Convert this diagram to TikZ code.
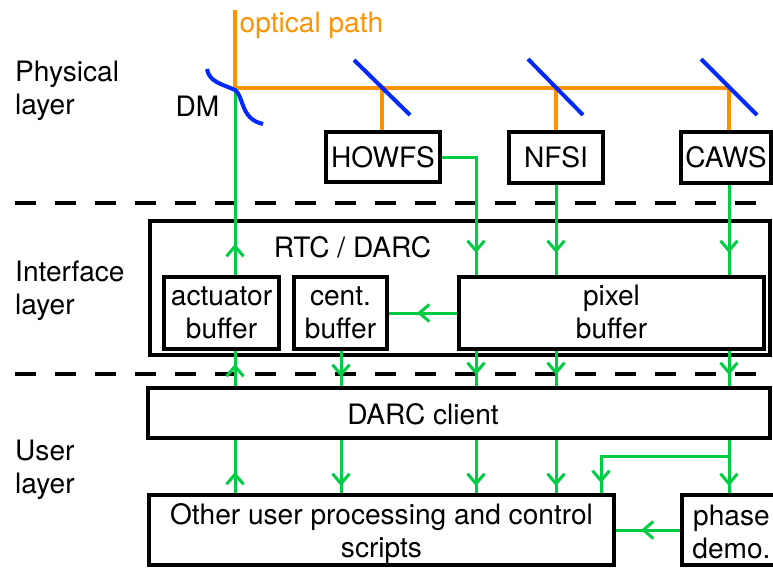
\documentclass[tikz,border=0pt]{standalone}
\usepackage{fontspec}
\setmainfont{TeX Gyre Heros}
\usetikzlibrary{arrows.meta,decorations.markings}
\definecolor{gr}{RGB}{0,204,68}
\definecolor{orng}{RGB}{255,146,0}
\definecolor{blu}{RGB}{0,40,255}
\tikzset{
 box/.style={draw=black,line width=4pt,inner sep=0pt},
 lbl/.style={inner sep=0pt,font=\fontsize{28.1}{33}\selectfont,align=center},
 gl/.style={draw=gr,line width=3pt},
 ol/.style={draw=orng,line width=3.2pt},
 mirror/.style={draw=blu,line width=4pt},
 dline/.style={draw=black,line width=3.5pt,dash pattern=on 21pt off 19pt},
 arrowat/.style={postaction={decorate},decoration={markings,mark=at position #1 with {\arrow[gr,line width=3pt]{Straight Barb[length=10pt,width=17pt]}}}}
}
\begin{document}
\begin{tikzpicture}[x=1pt,y=-1pt]
\useasboundingbox (0,0) rectangle (773,568);
% layer labels
\node[lbl,align=left,anchor=west] (phys) at (15,90.5) {Physical\\layer};
\node[lbl,align=left,anchor=west] (intf) at (15,291.2) {Interface\\layer};
\node[lbl,align=left,anchor=west] (user) at (15,469.5) {User\\layer};
% dashed separators
\coordinate (d1a) at (15,203); \coordinate (d1b) at (773,203);
\coordinate (d2a) at (15,374); \coordinate (d2b) at (773,374);
\draw[dline] (d1a) -- (d1b);
\draw[dline] (d2a) -- (d2b);
% boxes
\node[box,lbl,minimum width=114pt,minimum height=50pt] (howfs) at (383,157) {HOWFS};
\node[box,lbl,minimum width=94pt,minimum height=51pt] (nfsi) at (556,157.5) {NFSI};
\node[box,lbl,minimum width=90pt,minimum height=51pt] (caws) at (726,157.5) {CAWS};
\node[box,minimum width=620pt,minimum height=134pt] (rtc) at (460,288) {};
\node[lbl,anchor=base] (rtclbl) at (352.5,257.7) {RTC / DARC};
\node[box,lbl,minimum width=115pt,minimum height=72pt] (act) at (221.5,313) {actuator\\buffer};
\node[box,lbl,minimum width=93pt,minimum height=72pt] (cent) at (340.5,313) {cent.\\buffer};
\node[box,lbl,minimum width=305pt,minimum height=72pt] (pix) at (611.5,313) {pixel\\buffer\rule[-3pt]{0pt}{3pt}};
\node[box,minimum width=622pt,minimum height=50pt] (darc) at (459,413) {};
\node[lbl,anchor=base] (darclbl) at (423,424) {DARC client};
\node[box,lbl,minimum width=465pt,minimum height=70pt] (other) at (381.5,530) {\rule{0pt}{29pt}Other user processing and control\\scripts};
\node[box,lbl,minimum width=99pt,minimum height=70pt] (phase) at (731.5,530) {\rule{0pt}{25pt}phase\\demo.};
% optical path
\coordinate (optop) at (235,10);
\coordinate (dmpt) at (235,88);
\coordinate (m1) at (382,88);
\coordinate (m2) at (556,88);
\coordinate (m3) at (729,88);
\draw[ol] (optop) -- (dmpt) -- (m3);
\draw[ol] (m1) -- (m1 |- howfs.north);
\draw[ol] (m2) -- (m2 |- nfsi.north);
\draw[ol] (m3) -- (m3 |- caws.north);
\node[lbl,anchor=base west,text=orng] (optlbl) at (239.5,32.3) {optical path};
\node[lbl,anchor=base] (dmlbl) at (197.5,116) {DM};
% column coordinates
\coordinate (xb) at (341,0);
\coordinate (xc) at (476,0);
\coordinate (xd) at (556,0);
\coordinate (xe) at (729,0);
\coordinate (xf) at (601,0);
\coordinate (br) at (729,456);
% green connectors
\draw[gl,arrowat=31pt] (dmpt |- act.north) -- (dmpt);
\draw[gl,arrowat=130pt] (howfs.east) -| (xc |- pix.north);
\draw[gl,arrowat=68pt] (nfsi.south) -- (xd |- pix.north);
\draw[gl,arrowat=68pt] (xe |- caws.south) -- (xe |- pix.north);
\draw[gl,arrowat=40pt] (pix.west) -- (cent.east);
\draw[gl,arrowat=22pt] (dmpt |- darc.north) -- (dmpt |- act.south);
\draw[gl,arrowat=26pt] (xb |- cent.south) -- (xb |- darc.north);
\foreach \c in {xc,xd,xe} \draw[gl,arrowat=24pt] (\c |- pix.south) -- (\c |- darc.north);
\draw[gl,arrowat=21pt] (dmpt |- other.north) -- (dmpt |- darc.south);
\foreach \c in {xb,xc,xd} \draw[gl,arrowat=46pt] (\c |- darc.south) -- (\c |- other.north);
\draw[gl,arrowat=46pt] (xe |- darc.south) -- (xe |- phase.north);
\draw[gl,arrowat=155pt] (br) -| (xf |- other.north);
\draw[gl,arrowat=39pt] (phase.west) -- (other.east);
% mirrors and DM
\draw[mirror] (354,60) -- (410,115);
\draw[mirror] (528,59) -- (583,115);
\draw[mirror] (701,59) -- (757,115);
\draw[mirror] (207,69) .. controls (209,82) and (222,84) .. (235,90) .. controls (244,96) and (240,119) .. (263,124);
\end{tikzpicture}
\end{document}
